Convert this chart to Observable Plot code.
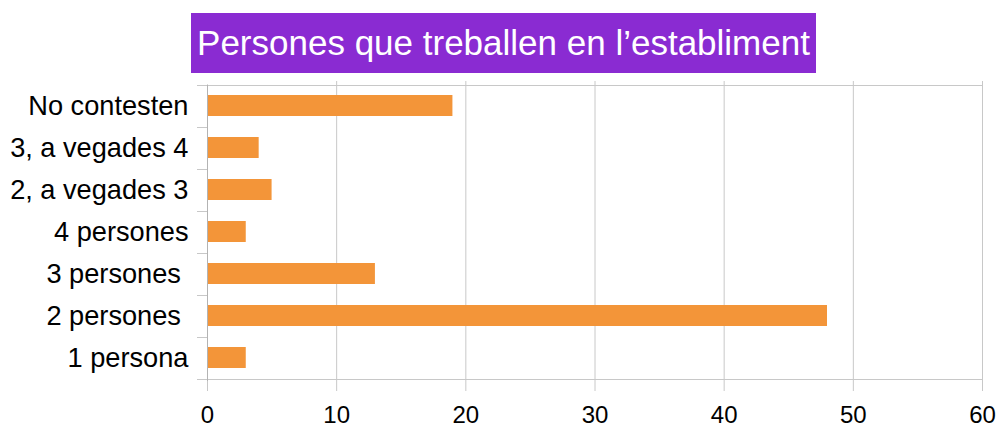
<!DOCTYPE html>
<html>
<head>
<meta charset="utf-8">
<script src="https://cdn.jsdelivr.net/npm/d3@7"></script>
<script src="https://cdn.jsdelivr.net/npm/@observablehq/plot@0.6"></script>
<style>
  html, body { margin: 0; padding: 0; background: #fff; }
  #wrap { width: 999px; height: 425px; position: relative; overflow: hidden; font-family: "Liberation Sans", Arial, sans-serif; }
  #title { position: absolute; left: 191px; top: 13px; width: 625px; height: 60px; background: #8A2BD2; color: #fff;
           font-size: 35px; line-height: 60px; text-align: center; white-space: nowrap; }
  #chart { position: absolute; left: 0; top: 75px; }
</style>
</head>
<body>
<div id="wrap">
  <div id="title">Persones que treballen en l’establiment</div>
  <div id="chart"></div>
</div>
<script>
const categories = ["No contesten", "3, a vegades 4", "2, a vegades 3", "4 persones", "3 persones\u00a0", "2 persones\u00a0", "1 persona"];
const values = [19, 4, 5, 3, 13, 48, 3];
const xTicks = [0, 10, 20, 30, 40, 50, 60];

const data = categories.map((c, i) => ({category: c, value: values[i]}));

const gridColor = "#c8c8c8";

const bandEdges = (index, scales, values, dims) => {
  const y = scales.y, x = scales.x;
  const bw = y.bandwidth();
  const step = y.step();
  const x0 = x(0), x1 = x(60);
  const g = d3.create("svg:g").attr("stroke", gridColor).attr("stroke-width", 1);
  const edges = categories.map(c => y(c) - (step - bw) / 2);
  edges.push(y(categories[categories.length - 1]) + bw + (step - bw) / 2);
  edges.forEach((e, i) => {
    const full = i === 0 || i === edges.length - 1;
    g.append("line").attr("x1", x0 - 10).attr("x2", full ? x1 : x0)
      .attr("y1", Math.round(e) + 0.5).attr("y2", Math.round(e) + 0.5);
  });
  g.append("line").attr("x1", x0 + 0.5).attr("x2", x0 + 0.5)
    .attr("y1", edges[0]).attr("y2", edges[edges.length - 1] + 11).attr("stroke", "#b3b3b3");
  return g.node();
};

const chart = Plot.plot({
  width: 999,
  height: 350,
  marginTop: 6,
  marginBottom: 44,
  marginLeft: 207,
  marginRight: 17,
  style: {fontFamily: "'Liberation Sans', Arial, sans-serif", color: "#000", background: "transparent"},
  x: {domain: [0, 60], ticks: xTicks},
  y: {domain: categories, paddingInner: 0.5, paddingOuter: 0.25, label: null},
  marks: [
    Plot.gridX(xTicks.slice(1), {stroke: gridColor, strokeOpacity: 1}),
    Plot.barX(data, {y: "category", x: "value", fill: "#F39539"}),
    bandEdges,
    Plot.axisX(xTicks, {tickSize: 10, tickPadding: 14, fontSize: 24, stroke: gridColor, strokeOpacity: 1, fill: "#000", label: null}),
    Plot.axisY({tickSize: 0, tickPadding: 19, fontSize: 27.2, fill: "#000", label: null})
  ]
});
document.getElementById("chart").appendChild(chart);
</script>
</body>
</html>
